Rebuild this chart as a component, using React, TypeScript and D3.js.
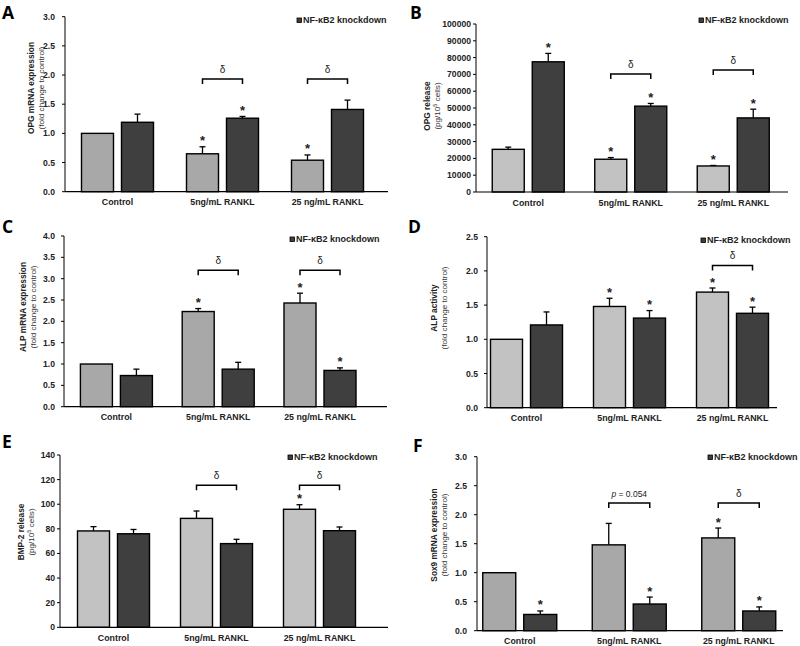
import React from 'react';
import * as d3 from 'd3';

// ---------- shared categories / legend ----------
const categories = ['Control', '5ng/mL RANKL', '25 ng/mL RANKL'];
const seriesKeys = ['ctrl', 'kd'];
const legendLabel = 'NF-κB2 knockdown';

// ---------- A: OPG mRNA expression ----------
const aCtrl = [1.0, 0.65, 0.54];
const aCtrlErr = [0, 0.12, 0.09];
const aKd = [1.19, 1.26, 1.41];
const aKdErr = [0.14, 0.03, 0.16];
const aCtrlStar = [false, true, true];
const aKdStar = [false, true, false];
const aTicks = [0, 0.5, 1.0, 1.5, 2.0, 2.5, 3.0];
const aBrackets = [
  { cat: 1, level: 1.93, label: 'δ' },
  { cat: 2, level: 1.93, label: 'δ' },
];

// ---------- B: OPG release ----------
const bCtrl = [25400, 19500, 15500];
const bCtrlErr = [1300, 1000, 300];
const bKd = [77500, 51100, 44100];
const bKdErr = [5000, 1600, 5200];
const bCtrlStar = [false, true, true];
const bKdStar = [true, true, true];
const bTicks = [0, 10000, 20000, 30000, 40000, 50000, 60000, 70000, 80000, 90000, 100000];
const bBrackets = [
  { cat: 1, level: 70200, label: 'δ' },
  { cat: 2, level: 72600, label: 'δ' },
];

// ---------- C: ALP mRNA expression ----------
const cCtrl = [1.0, 2.23, 2.43];
const cCtrlErr = [0, 0.07, 0.23];
const cKd = [0.73, 0.88, 0.85];
const cKdErr = [0.15, 0.16, 0.06];
const cCtrlStar = [false, true, true];
const cKdStar = [false, false, true];
const cTicks = [0, 0.5, 1.0, 1.5, 2.0, 2.5, 3.0, 3.5, 4.0];
const cBrackets = [
  { cat: 1, level: 3.2, label: 'δ' },
  { cat: 2, level: 3.2, label: 'δ' },
];

// ---------- D: ALP activity ----------
const dCtrl = [1.0, 1.48, 1.69];
const dCtrlErr = [0, 0.12, 0.06];
const dKd = [1.21, 1.31, 1.38];
const dKdErr = [0.19, 0.11, 0.09];
const dCtrlStar = [false, true, true];
const dKdStar = [false, true, true];
const dTicks = [0, 0.5, 1.0, 1.5, 2.0, 2.5];
const dBrackets = [{ cat: 2, level: 2.08, label: 'δ' }];

// ---------- E: BMP-2 release ----------
const eCtrl = [78.3, 88.5, 95.9];
const eCtrlErr = [3.5, 6, 3.7];
const eKd = [76, 68, 78.5];
const eKdErr = [3.5, 3.5, 3];
const eCtrlStar = [false, false, true];
const eKdStar = [false, false, false];
const eTicks = [0, 20, 40, 60, 80, 100, 120, 140];
const eBrackets = [
  { cat: 1, level: 115.5, label: 'δ' },
  { cat: 2, level: 115.5, label: 'δ' },
];

// ---------- F: Sox9 mRNA expression ----------
const fCtrl = [1.0, 1.48, 1.6];
const fCtrlErr = [0, 0.37, 0.17];
const fKd = [0.28, 0.46, 0.34];
const fKdErr = [0.06, 0.12, 0.07];
const fCtrlStar = [false, false, true];
const fKdStar = [true, true, true];
const fTicks = [0, 0.5, 1.0, 1.5, 2.0, 2.5, 3.0];
const fBrackets = [
  { cat: 1, level: 2.2, label: 'p = 0.054' },
  { cat: 2, level: 2.2, label: 'δ' },
];

// ---------- panel assembly ----------
const panels = [
  {
    letter: 'A', ctrl: aCtrl, ctrlErr: aCtrlErr, kd: aKd, kdErr: aKdErr,
    ctrlStar: aCtrlStar, kdStar: aKdStar, ticks: aTicks, brackets: aBrackets,
    fmt: d3.format('.1f'), ylab1: 'OPG mRNA expression', ylab2: '(fold change to control)', sup: false,
    layout: { axisX: 65, yTop: 16.7, yBot: 191.7, bandStart: 65, step: 105, axisEnd: 388, tickPad: 10,
      light: '#a8a8a8', letterXY: [2, 19], yl1: 31, yl2: 41, ylCy: 88, legendXY: [297, 18], barW: 32, gap: 8 },
  },
  {
    letter: 'B', ctrl: bCtrl, ctrlErr: bCtrlErr, kd: bKd, kdErr: bKdErr,
    ctrlStar: bCtrlStar, kdStar: bKdStar, ticks: bTicks, brackets: bBrackets,
    fmt: d3.format('d'), ylab1: 'OPG release', ylab2: '(pg/10', sup: true,
    layout: { axisX: 476, yTop: 24, yBot: 192, bandStart: 477, step: 102.5, axisEnd: 788, tickPad: 5,
      light: '#c2c2c2', letterXY: [410, 19], yl1: 427, yl2: 437, ylCy: 106, legendXY: [699, 18], barW: 32, gap: 8 },
  },
  {
    letter: 'C', ctrl: cCtrl, ctrlErr: cCtrlErr, kd: cKd, kdErr: cKdErr,
    ctrlStar: cCtrlStar, kdStar: cKdStar, ticks: cTicks, brackets: cBrackets,
    fmt: d3.format('.1f'), ylab1: 'ALP mRNA expression', ylab2: '(fold change to control)', sup: false,
    layout: { axisX: 64, yTop: 236, yBot: 406.7, bandStart: 65.5, step: 101.8, axisEnd: 387, tickPad: 9,
      light: '#a8a8a8', letterXY: [2, 233], yl1: 23, yl2: 33, ylCy: 307, legendXY: [290, 237], barW: 32, gap: 8 },
  },
  {
    letter: 'D', ctrl: dCtrl, ctrlErr: dCtrlErr, kd: dKd, kdErr: dKdErr,
    ctrlStar: dCtrlStar, kdStar: dKdStar, ticks: dTicks, brackets: dBrackets,
    fmt: d3.format('.1f'), ylab1: 'ALP activity', ylab2: '(fold change to control)', sup: false,
    layout: { axisX: 487, yTop: 236.7, yBot: 407.7, bandStart: 475, step: 103, axisEnd: 777, tickPad: 9,
      light: '#c2c2c2', letterXY: [408, 233], yl1: 434, yl2: 444, ylCy: 308, legendXY: [701, 238], barW: 32, gap: 8 },
  },
  {
    letter: 'E', ctrl: eCtrl, ctrlErr: eCtrlErr, kd: eKd, kdErr: eKdErr,
    ctrlStar: eCtrlStar, kdStar: eKdStar, ticks: eTicks, brackets: eBrackets,
    fmt: d3.format('d'), ylab1: 'BMP-2 release', ylab2: '(pg/10', sup: true,
    layout: { axisX: 60, yTop: 455, yBot: 627.3, bandStart: 62, step: 103, axisEnd: 388, tickPad: 5,
      light: '#c2c2c2', letterXY: [2, 448], yl1: 21, yl2: 31, ylCy: 532, legendXY: [288, 455], barW: 32, gap: 8 },
  },
  {
    letter: 'F', ctrl: fCtrl, ctrlErr: fCtrlErr, kd: fKd, kdErr: fKdErr,
    ctrlStar: fCtrlStar, kdStar: fKdStar, ticks: fTicks, brackets: fBrackets,
    fmt: d3.format('.1f'), ylab1: 'Sox9 mRNA expression', ylab2: '(fold change to control)', sup: false,
    layout: { axisX: 477, yTop: 456.7, yBot: 630.7, bandStart: 465, step: 109.5, axisEnd: 783, tickPad: 10,
      light: '#a8a8a8', letterXY: [413, 452], yl1: 434, yl2: 444, ylCy: 535, legendXY: [708, 455], barW: 33, gap: 8 },
  },
];

const FONT = "'Liberation Sans', Arial, sans-serif";
const DARK = '#3f3f3f';

function Panel({ p }: { p: any }) {
  const L = p.layout;
  const maxV = p.ticks[p.ticks.length - 1];
  const y = d3.scaleLinear().domain([0, maxV]).range([L.yBot, L.yTop]);
  const x = d3.scaleBand<string>().domain(categories)
    .range([L.bandStart, L.bandStart + L.step * categories.length]).padding(0);
  const half = L.barW + L.gap / 2;
  const xs = d3.scaleBand<string>().domain(seriesKeys).range([-half, half])
    .paddingInner(L.gap / (L.barW + L.gap)).paddingOuter(0);
  const center = (i: number) => (x(categories[i]) as number) + x.bandwidth() / 2;

  const series = [
    { key: 'ctrl', vals: p.ctrl, errs: p.ctrlErr, stars: p.ctrlStar, fill: L.light },
    { key: 'kd', vals: p.kd, errs: p.kdErr, stars: p.kdStar, fill: DARK },
  ];
  const capHalf = 3;

  return (
    <g>
      <text x={L.letterXY[0]} y={L.letterXY[1]} fontFamily="'Open Sans', sans-serif" fontWeight={700}
        fontSize={17.5} fill="#000">{p.letter}</text>

      {/* bars */}
      {series.map((s) =>
        categories.map((c, i) => {
          const x0 = center(i) + (xs(s.key) as number);
          const bw = xs.bandwidth();
          const top = y(s.vals[i]);
          const errTop = y(s.vals[i] + s.errs[i]);
          const cx = x0 + bw / 2;
          return (
            <g key={s.key + i}>
              {s.errs[i] > 0 && (
                <g stroke="#000" strokeWidth={1.3}>
                  <line x1={cx} x2={cx} y1={top} y2={errTop} />
                  <line x1={cx - capHalf} x2={cx + capHalf} y1={errTop} y2={errTop} />
                </g>
              )}
              <rect x={x0} y={top} width={bw} height={L.yBot - top} fill={s.fill}
                stroke="#000" strokeWidth={1.4} />
              {s.stars[i] && (
                <text x={cx} y={errTop - 9 + 7.5} textAnchor="middle" fontFamily={FONT}
                  fontWeight={700} fontSize={13} fill="#222">*</text>
              )}
            </g>
          );
        })
      )}

      {/* axes */}
      <line x1={L.axisX} x2={L.axisX} y1={L.yTop} y2={L.yBot} stroke="#000" strokeWidth={1} />
      <line x1={L.axisX} x2={L.axisEnd} y1={L.yBot} y2={L.yBot} stroke="#000" strokeWidth={1.2} />
      {p.ticks.map((t: number) => (
        <g key={t}>
          <line x1={L.axisX - 3} x2={L.axisX} y1={y(t)} y2={y(t)} stroke="#000" strokeWidth={1} />
          <text x={L.axisX - L.tickPad} y={y(t) + 3} textAnchor="end" fontFamily={FONT}
            fontWeight={700} fontSize={8.6} fill="#222">{p.fmt(t)}</text>
        </g>
      ))}
      {categories.map((c, i) => (
        <text key={c} x={center(i)} y={L.yBot + 13.5} textAnchor="middle" fontFamily={FONT}
          fontWeight={700} fontSize={8.8} fill="#222">{c}</text>
      ))}

      {/* y labels */}
      <text transform={`translate(${L.yl1 + 3},${L.ylCy}) rotate(-90)`} textAnchor="middle"
        fontFamily={FONT} fontWeight={700} fontSize={8.3} fill="#222">{p.ylab1}</text>
      <text transform={`translate(${L.yl2 + 3},${L.ylCy}) rotate(-90)`} textAnchor="middle"
        fontFamily={FONT} fontSize={8.1} fill="#333">
        {p.sup ? (
          <>
            {p.ylab2}
            <tspan fontSize={5.5} dy={-3}>5</tspan>
            <tspan dy={3}> cells)</tspan>
          </>
        ) : p.ylab2}
      </text>

      {/* legend */}
      <rect x={L.legendXY[0]} y={L.legendXY[1]} width={4.5} height={4.5} fill={DARK}
        stroke="#000" strokeWidth={0.8} />
      <text x={L.legendXY[0] + 6} y={L.legendXY[1] + 5} fontFamily={FONT} fontWeight={700}
        fontSize={9} fill="#222">{legendLabel}</text>

      {/* significance brackets */}
      {p.brackets.map((b: any, k: number) => {
        const cI = center(b.cat);
        const x1 = cI + (xs('ctrl') as number) + xs.bandwidth() / 2;
        const x2 = cI + (xs('kd') as number) + xs.bandwidth() / 2;
        const by = y(b.level);
        const isP = b.label.startsWith('p');
        return (
          <g key={k}>
            <path d={`M${x1},${by + 5}V${by}H${x2}V${by + 5}`} fill="none" stroke="#000" strokeWidth={1.5} />
            <text x={(x1 + x2) / 2} y={by - 6} textAnchor="middle" fontFamily={FONT}
              fontSize={isP ? 8.5 : 10} fill="#222">
              {isP ? (<><tspan fontStyle="italic">p</tspan>{b.label.slice(1)}</>) : b.label}
            </text>
          </g>
        );
      })}
    </g>
  );
}

export default function App() {
  return (
    <div style={{ position: 'absolute', left: 0, top: 0 }}>
      <svg width={800} height={646} viewBox="0 0 800 646" style={{ display: 'block', background: '#fff' }}>
        <rect width={800} height={646} fill="#fff" />
        {panels.map((p) => <Panel key={p.letter} p={p} />)}
      </svg>
    </div>
  );
}
